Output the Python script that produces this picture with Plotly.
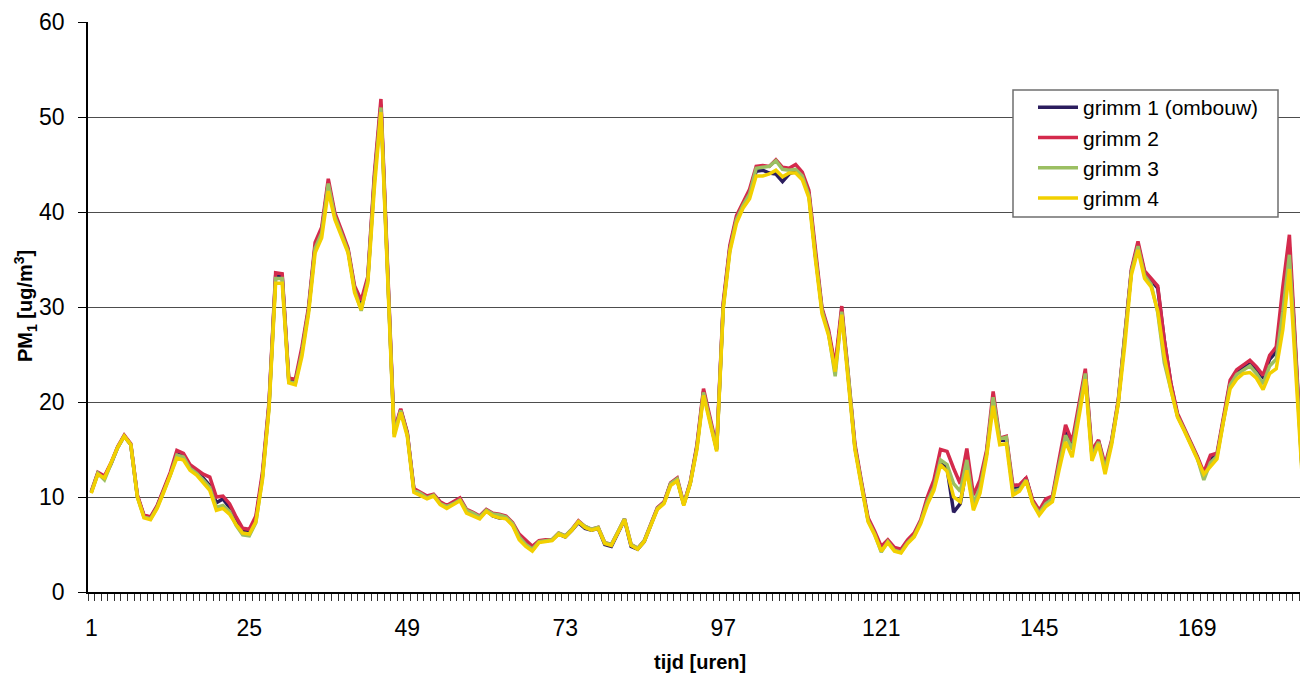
import plotly.graph_objects as go

hours = list(range(1, 186))

grimm1 = [10.5, 12.5, 12.1, 13.5, 15.2, 16.4, 15.5, 10.1, 8.0, 7.8,
          9.0, 10.7, 12.4, 14.6, 14.3, 13.2, 12.6, 12.0, 11.2, 9.4,
          9.8, 8.9, 7.5, 6.4, 6.3, 7.7, 12.2, 19.7, 33.2, 33.2,
          22.3, 22.1, 25.4, 29.7, 36.4, 38.0, 43.1, 39.6, 37.8, 36.0,
          31.9, 30.3, 32.9, 43.5, 51.3, 33.6, 16.7, 19.2, 16.7, 10.8,
          10.4, 10.0, 10.2, 9.4, 9.0, 9.4, 9.8, 8.5, 8.2, 7.8,
          8.6, 8.0, 7.8, 7.8, 7.1, 5.7, 5.0, 4.4, 5.3, 5.4,
          5.5, 6.1, 5.8, 6.5, 7.3, 6.7, 6.5, 6.7, 5.0, 4.8,
          6.2, 7.6, 4.8, 4.5, 5.3, 7.0, 8.8, 9.4, 11.4, 11.8,
          9.2, 11.5, 15.3, 21.1, 18.1, 15.0, 30.2, 36.2, 39.3, 40.8,
          42.0, 44.3, 44.4, 44.1, 44.0, 43.2, 44.0, 44.3, 43.6, 42.0,
          35.5, 29.7, 27.3, 23.4, 29.7, 22.9, 15.3, 11.4, 7.6, 6.2,
          4.5, 5.3, 4.5, 4.3, 5.3, 6.0, 7.4, 9.6, 11.2, 13.8,
          13.0, 8.4, 9.3, 13.2, 9.0, 11.0, 14.6, 20.4, 16.0, 16.1,
          10.8, 11.0, 12.0, 9.5, 8.4, 9.4, 9.8, 13.5, 17.0, 15.2,
          19.3, 23.1, 14.5, 15.9, 13.0, 15.8, 20.0, 26.7, 33.8, 36.6,
          33.6, 32.8, 32.0, 26.5, 21.9, 18.6, 17.2, 15.8, 14.2, 12.2,
          14.0, 14.4, 18.4, 22.0, 23.1, 23.6, 24.0, 23.4, 22.6, 24.5,
          25.3, 30.5, 36.3, 24.5, 12.0]

grimm2 = [10.6, 12.6, 12.2, 13.6, 15.3, 16.5, 15.6, 10.2, 8.1, 7.9,
          9.1, 10.8, 12.6, 14.9, 14.6, 13.4, 12.9, 12.4, 12.1, 10.0,
          10.1, 9.3, 7.9, 6.7, 6.6, 8.0, 12.6, 20.0, 33.6, 33.5,
          22.5, 22.4, 25.8, 30.0, 36.8, 38.4, 43.5, 39.9, 38.1, 36.2,
          32.2, 30.7, 33.2, 44.0, 51.9, 34.0, 17.0, 19.3, 16.8, 10.9,
          10.5, 10.1, 10.3, 9.5, 9.1, 9.5, 9.9, 8.7, 8.4, 8.0,
          8.7, 8.3, 8.2, 8.0, 7.3, 6.1, 5.4, 4.8, 5.4, 5.5,
          5.5, 6.2, 5.9, 6.6, 7.5, 6.9, 6.6, 6.8, 5.2, 5.0,
          6.3, 7.7, 5.0, 4.6, 5.4, 7.2, 8.9, 9.5, 11.5, 12.0,
          9.3, 11.6, 15.5, 21.4, 18.4, 15.3, 30.5, 36.5, 39.6, 41.0,
          42.4, 44.8, 44.9, 44.8, 45.5, 44.7, 44.6, 45.0, 44.2, 42.3,
          35.8, 29.9, 27.6, 23.8, 30.1, 23.2, 15.6, 11.6, 7.8, 6.4,
          4.8, 5.5, 4.7, 4.5, 5.5, 6.2, 7.6, 10.0, 11.8, 15.0,
          14.8, 13.0, 11.4, 15.1, 10.2, 11.8, 14.9, 21.1, 16.2, 16.4,
          11.2, 11.3, 12.0, 9.7, 8.6, 9.8, 10.1, 13.9, 17.6, 15.8,
          19.9, 23.5, 14.9, 16.0, 13.4, 16.0, 20.2, 27.2, 34.0, 36.9,
          33.8, 33.0, 32.2, 26.5, 22.0, 18.8, 17.3, 15.9, 14.3, 12.6,
          14.4, 14.6, 18.6, 22.3, 23.4, 23.9, 24.4, 23.7, 22.8, 24.9,
          25.8, 32.1, 37.6, 25.0, 12.2]

grimm3 = [10.5, 12.5, 11.8, 13.4, 15.2, 16.4, 15.5, 10.0, 7.9, 7.7,
          8.9, 10.6, 12.3, 14.4, 14.2, 13.0, 12.5, 11.8, 11.0, 8.9,
          9.1, 8.5, 7.0, 6.0, 5.9, 7.3, 12.0, 19.5, 33.0, 33.0,
          22.1, 22.0, 25.2, 29.6, 36.2, 37.8, 43.0, 39.5, 37.7, 35.9,
          31.8, 29.6, 32.8, 43.2, 51.0, 33.5, 16.6, 19.1, 16.6, 10.7,
          10.4, 9.9, 10.2, 9.3, 9.0, 9.3, 9.7, 8.6, 8.3, 7.9,
          8.6, 8.2, 8.1, 7.9, 7.2, 5.8, 5.0, 4.5, 5.3, 5.4,
          5.5, 6.2, 5.9, 6.6, 7.4, 6.9, 6.6, 6.8, 5.2, 5.0,
          6.3, 7.7, 5.0, 4.6, 5.4, 7.1, 8.8, 9.4, 11.4, 11.9,
          9.2, 11.5, 15.2, 21.0, 18.0, 15.0, 30.0, 36.0, 39.2, 40.7,
          41.9, 44.6, 44.7, 44.8, 45.4, 44.5, 44.4, 44.5, 43.8, 41.8,
          35.4, 29.6, 27.2, 22.7, 29.5, 22.8, 15.2, 11.3, 7.5, 6.1,
          4.2, 5.3, 4.4, 4.2, 5.2, 5.9, 7.4, 9.5, 11.0, 13.9,
          13.4, 11.4, 10.6, 13.9, 9.3, 11.0, 14.5, 20.5, 16.1, 16.3,
          10.6, 10.8, 11.8, 9.4, 8.3, 9.3, 9.8, 13.3, 16.5, 15.0,
          19.0, 23.0, 14.3, 15.8, 12.9, 15.8, 20.0, 26.5, 33.7, 36.4,
          33.3, 32.4, 29.4, 24.1, 21.3, 18.5, 17.1, 15.7, 14.1, 11.8,
          13.6, 14.3, 18.2, 21.8, 22.9, 23.4, 23.8, 23.0, 21.9, 23.8,
          24.5, 29.5, 35.5, 24.0, 11.8]

grimm4 = [10.4, 12.4, 12.0, 13.5, 15.2, 16.4, 15.5, 10.0, 7.8, 7.6,
          8.8, 10.5, 12.2, 14.1, 13.9, 12.8, 12.3, 11.5, 10.7, 8.6,
          8.8, 8.2, 7.1, 6.2, 6.1, 7.4, 11.8, 19.3, 32.5, 32.5,
          22.0, 21.8, 24.8, 29.3, 35.7, 37.3, 42.2, 39.2, 37.4, 35.7,
          31.5, 29.7, 32.5, 42.5, 50.5, 33.0, 16.3, 18.9, 16.4, 10.5,
          10.2, 9.8, 10.1, 9.2, 8.8, 9.2, 9.6, 8.3, 8.0, 7.7,
          8.5, 8.0, 7.8, 7.7, 7.0, 5.5, 4.8, 4.3, 5.2, 5.3,
          5.4, 6.1, 5.8, 6.5, 7.4, 6.8, 6.5, 6.7, 5.1, 4.9,
          6.2, 7.6, 4.9, 4.5, 5.3, 7.0, 8.7, 9.3, 11.2, 11.7,
          9.1, 11.4, 15.0, 20.7, 17.8, 14.8, 29.8, 35.8, 38.8, 40.4,
          41.4, 43.8, 43.8, 44.0, 44.4, 43.7, 44.1, 44.1, 43.4, 41.5,
          35.0, 29.3, 27.0, 23.2, 29.2, 22.5, 15.0, 11.1, 7.4, 6.0,
          4.3, 5.2, 4.3, 4.1, 5.1, 5.8, 7.2, 9.2, 10.7, 13.4,
          12.7, 10.0, 9.5, 12.8, 8.6, 10.4, 14.2, 19.6, 15.5, 15.6,
          10.2, 10.6, 11.7, 9.3, 8.1, 9.0, 9.5, 12.8, 15.8, 14.2,
          18.4, 22.4, 13.8, 15.6, 12.4, 15.5, 19.8, 26.0, 33.4, 36.0,
          33.0, 32.1, 29.6, 24.8, 21.3, 18.4, 17.0, 15.6, 14.0, 12.4,
          13.2, 14.0, 18.0, 21.4, 22.4, 23.0, 23.1, 22.5, 21.3, 23.0,
          23.5, 27.6, 34.0, 23.0, 11.5]

series_names = ["grimm 1 (ombouw)", "grimm 2", "grimm 3", "grimm 4"]
series_colors = ["#2B1D5E", "#D42A4C", "#9BBF62", "#F2D000"]
x_tick_values = [1, 25, 49, 73, 97, 121, 145, 169]
y_tick_values = [0, 10, 20, 30, 40, 50, 60]

FONT = "Liberation Sans, Arial, sans-serif"

fig = go.Figure()
for name, vals, col in zip(series_names, [grimm1, grimm2, grimm3, grimm4], series_colors):
    fig.add_trace(go.Scatter(x=hours, y=vals, mode="lines", name=name,
                             line=dict(color=col, width=3.5)))

W, H = 1300, 675
L, T, R, B = 88, 22, 0, 675 - 592
pw = W - L - R
ph = H - T - B


def px(xp):  # page x -> paper x
    return (xp - L) / pw


def py(yp):  # page y -> paper y
    return (592 - yp) / ph


fig.update_layout(
    width=W, height=H,
    margin=dict(l=L, r=R, t=T, b=B, autoexpand=False),
    paper_bgcolor="white", plot_bgcolor="white",
    font=dict(family=FONT, size=23, color="black"),
    showlegend=True,
    legend=dict(
        x=px(1033), y=py(87), xanchor="left", yanchor="top",
        bgcolor="rgba(0,0,0,0)", borderwidth=0,
        font=dict(family=FONT, size=21, color="black"),
        itemwidth=40, tracegroupgap=0,
    ),
    shapes=[
        dict(type="rect", xref="paper", yref="paper", layer="above",
             x0=px(1013), x1=px(1278), y0=py(217), y1=py(90),
             fillcolor="white", line=dict(color="#6f6f6f", width=1.5)),
    ],
    xaxis=dict(
        range=[0.5, 0.5 + pw / 6.583],
        tickmode="array", tickvals=x_tick_values,
        ticktext=[str(v) for v in x_tick_values],
        ticks="", showgrid=False, zeroline=False, automargin=False,
        showline=True, linecolor="black", linewidth=1.5,
        ticklabelstandoff=15,
        tickfont=dict(family=FONT, size=23, color="black"),
        minor=dict(tickmode="linear", tick0=0.5, dtick=1, ticks="outside",
                   ticklen=7, tickcolor="#333333", tickwidth=1, showgrid=False),
    ),
    yaxis=dict(
        range=[0, 60], tickmode="array", tickvals=y_tick_values,
        ticks="outside", ticklen=8, tickcolor="black", automargin=False,
        showgrid=True, gridcolor="#4d4d4d", gridwidth=1, zeroline=False,
        showline=True, linecolor="black", linewidth=1.5,
        ticklabelstandoff=9,
        tickfont=dict(family=FONT, size=23, color="black"),
    ),
    annotations=[
        dict(text="<b>tijd [uren]</b>", xref="paper", yref="paper",
             x=px(700), y=py(662), xanchor="center", yanchor="middle",
             showarrow=False, font=dict(family=FONT, size=20, color="black")),
        dict(text="<b>PM<sub>1</sub> [ug/m<sup>3</sup>]</b>", xref="paper", yref="paper",
             x=px(25), y=py(306), xanchor="center", yanchor="middle",
             textangle=-90, showarrow=False,
             font=dict(family=FONT, size=20, color="black")),
    ],
)

fig.write_html(
    "out.html",
    config={"displayModeBar": False},
    post_script=("document.body.style.margin='0';"
                 "document.body.style.overflow='hidden';"
                 "document.documentElement.style.overflow='hidden';"),
)
